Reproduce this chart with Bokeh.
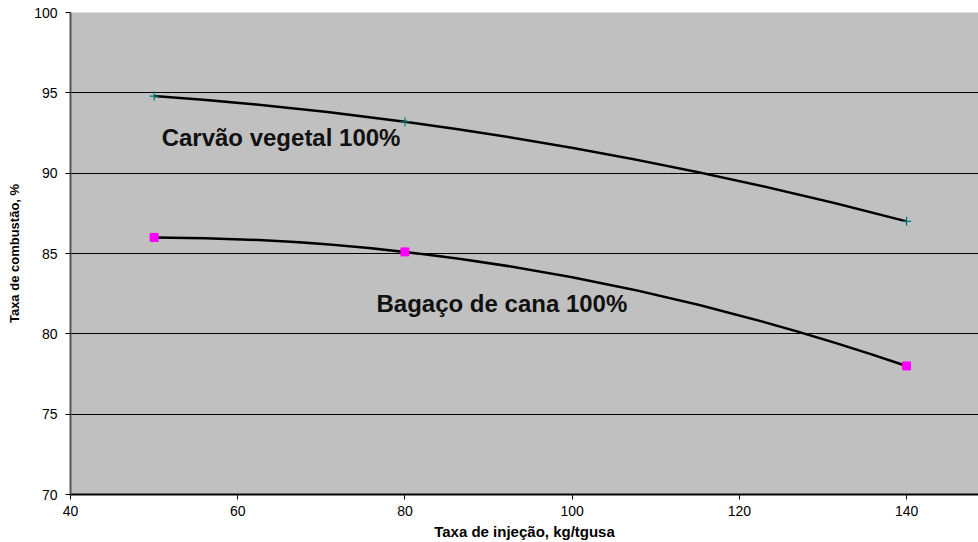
from bokeh.plotting import figure
from bokeh.models import Range1d, FixedTicker, Label, ColumnDataSource
from bokeh.embed import file_html
from bokeh.resources import INLINE

# ---- data ----
injecao = [50, 80, 140]
carvao = [94.8, 93.2, 87.0]
bagaco = [86.0, 85.1, 78.0]
x_ticks = [40, 60, 80, 100, 120, 140]
y_ticks = [70, 75, 80, 85, 90, 95, 100]
label_carvao = "Carvão vegetal 100%"
label_bagaco = "Bagaço de cana 100%"
x_title = "Taxa de injeção, kg/tgusa"
y_title = "Taxa de combustão, %"

FONT = "Liberation Sans"


def smooth_segments(xs, ys):
    """Bezier segments of a smoothed line (Bessel-slope cubic Hermite)."""
    n = len(xs)
    h = [xs[i + 1] - xs[i] for i in range(n - 1)]
    d = [(ys[i + 1] - ys[i]) / h[i] for i in range(n - 1)]
    m = [0.0] * n
    if n == 2:
        m = [d[0], d[0]]
    else:
        for i in range(1, n - 1):
            m[i] = (d[i - 1] * h[i] + d[i] * h[i - 1]) / (h[i - 1] + h[i])
        m[0] = d[0] - h[0] * (d[1] - d[0]) / (h[0] + h[1])
        m[-1] = d[-1] + (d[-1] - d[-2]) * h[-1] / (h[-2] + h[-1])
    out = dict(x0=[], y0=[], x1=[], y1=[], cx0=[], cy0=[], cx1=[], cy1=[])
    for i in range(n - 1):
        out["x0"].append(xs[i]); out["y0"].append(ys[i])
        out["x1"].append(xs[i + 1]); out["y1"].append(ys[i + 1])
        out["cx0"].append(xs[i] + h[i] / 3.0)
        out["cy0"].append(ys[i] + m[i] * h[i] / 3.0)
        out["cx1"].append(xs[i + 1] - h[i] / 3.0)
        out["cy1"].append(ys[i + 1] - m[i + 1] * h[i] / 3.0)
    return ColumnDataSource(out)


p = figure(width=978, height=542, output_backend="svg", toolbar_location=None,
           x_range=Range1d(40, 148.6), y_range=Range1d(70, 100),
           min_border_left=70, min_border_right=0, min_border_top=12,
           min_border_bottom=47)

p.background_fill_color = "#C0C0C0"
p.border_fill_color = "white"
p.outline_line_color = None

p.xgrid.grid_line_color = None
p.ygrid.grid_line_color = "black"
p.ygrid.grid_line_width = 1
p.ygrid.ticker = FixedTicker(ticks=y_ticks)

p.xaxis.ticker = FixedTicker(ticks=x_ticks)
p.yaxis.ticker = FixedTicker(ticks=y_ticks)

for ax in (p.xaxis[0], p.yaxis[0]):
    ax.major_tick_out = 5
    ax.major_tick_in = 0
    ax.minor_tick_out = 0
    ax.minor_tick_in = 0
    ax.major_tick_line_color = "black"
    ax.major_label_text_font = FONT
    ax.major_label_text_font_size = "14px"
    ax.major_label_text_color = "black"
    ax.axis_label_text_font = FONT
    ax.axis_label_text_font_style = "bold"
    ax.axis_label_text_color = "black"

p.xaxis.axis_line_color = "black"
p.xaxis.axis_line_width = 2
p.yaxis.axis_line_color = "#555555"
p.yaxis.axis_line_width = 2

p.xaxis.axis_label = x_title
p.xaxis.axis_label_text_font_size = "15px"
p.xaxis.major_label_standoff = 6
p.xaxis.axis_label_standoff = 4

p.yaxis.axis_label = y_title
p.yaxis.axis_label_text_font_size = "13px"
p.yaxis.major_label_standoff = 8
p.yaxis.axis_label_standoff = 9

# smoothed lines
p.bezier(x0="x0", y0="y0", x1="x1", y1="y1", cx0="cx0", cy0="cy0",
         cx1="cx1", cy1="cy1", source=smooth_segments(injecao, carvao),
         line_color="black", line_width=2.5)
p.bezier(x0="x0", y0="y0", x1="x1", y1="y1", cx0="cx0", cy0="cy0",
         cx1="cx1", cy1="cy1", source=smooth_segments(injecao, bagaco),
         line_color="black", line_width=2.5)

# markers
p.scatter(injecao, carvao, marker="cross", size=9, line_color="#007878",
          line_width=1.2)
p.scatter(injecao, bagaco, marker="square", size=8, fill_color="#FF00FF",
          line_color="#FF00FF")

# series labels
p.add_layout(Label(x=50.9, y=92.24, text=label_carvao, text_font=FONT,
                   text_font_size="24px", text_font_style="bold",
                   text_color="#111111", text_baseline="middle",
                   text_align="left"))
p.add_layout(Label(x=76.6, y=81.86, text=label_bagaco, text_font=FONT,
                   text_font_size="24px", text_font_style="bold",
                   text_color="#111111", text_baseline="middle",
                   text_align="left"))

open("out.html", "w").write(file_html(p, INLINE))
